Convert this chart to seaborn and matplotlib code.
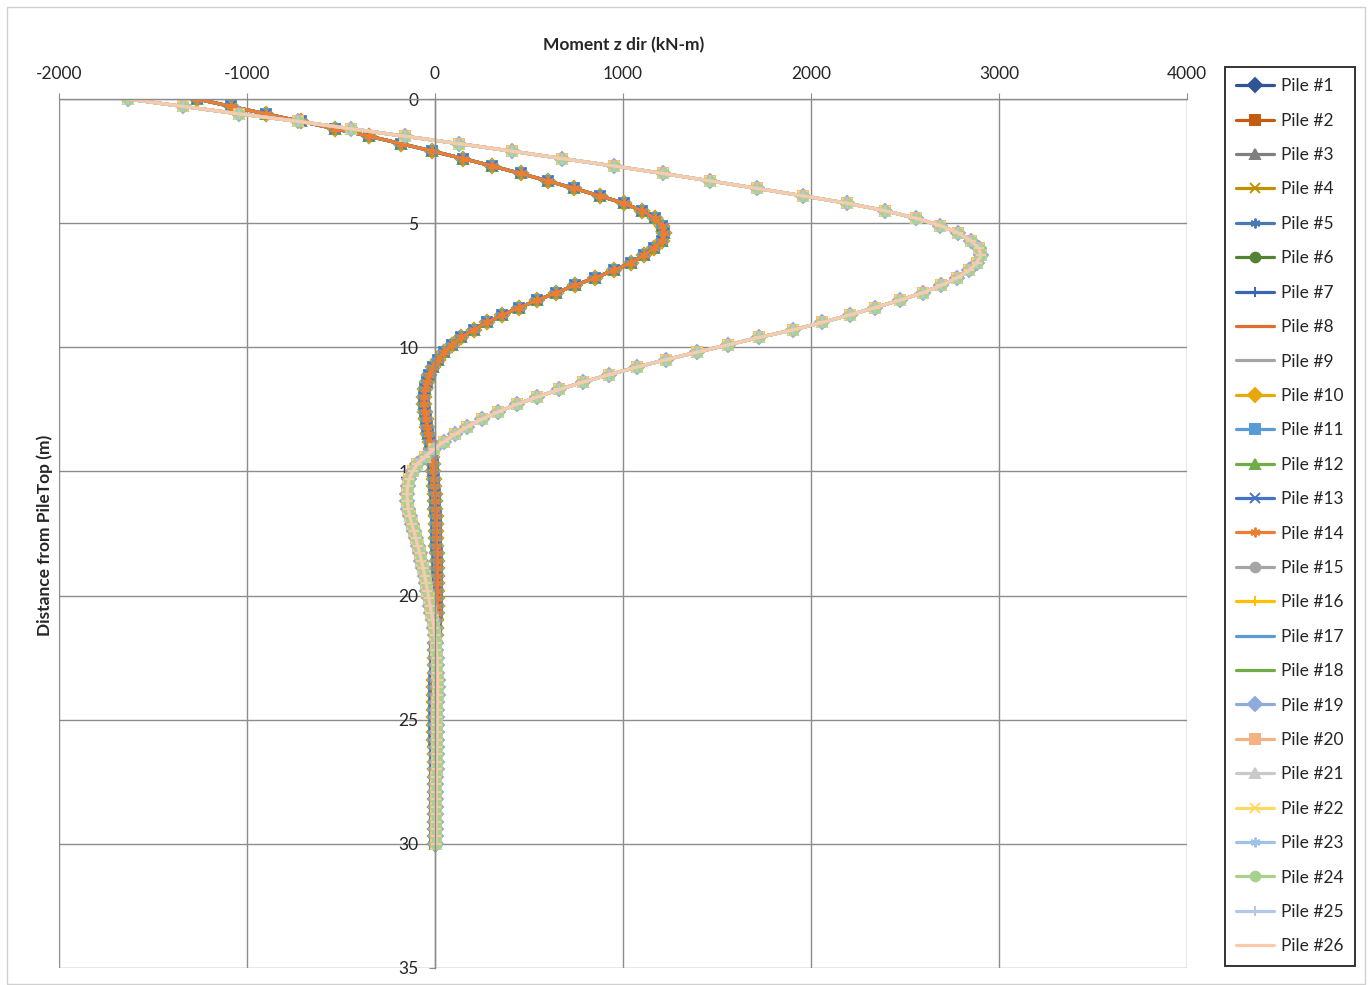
import numpy as np
import pandas as pd
import seaborn as sns
import matplotlib.pyplot as plt
from matplotlib.patches import Rectangle

# depth stations along the pile (m)
depth = [0.0, 0.3, 0.6, 0.9, 1.2, 1.5, 1.8, 2.1, 2.4, 2.7,
         3.0, 3.3, 3.6, 3.9, 4.2, 4.5, 4.8, 5.1, 5.4, 5.7,
         6.0, 6.3, 6.6, 6.9, 7.2, 7.5, 7.8, 8.1, 8.4, 8.7,
         9.0, 9.3, 9.6, 9.9, 10.2, 10.5, 10.8, 11.1, 11.4, 11.7,
         12.0, 12.3, 12.6, 12.9, 13.2, 13.5, 13.8, 14.1, 14.4, 14.7,
         15.0, 15.3, 15.6, 15.9, 16.2, 16.5, 16.8, 17.1, 17.4, 17.7,
         18.0, 18.3, 18.6, 18.9, 19.2, 19.5, 19.8, 20.1, 20.4, 20.7,
         21.0, 21.3, 21.6, 21.9, 22.2, 22.5, 22.8, 23.1, 23.4, 23.7,
         24.0, 24.3, 24.6, 24.9, 25.2, 25.5, 25.8, 26.1, 26.4, 26.7,
         27.0, 27.3, 27.6, 27.9, 28.2, 28.5, 28.8, 29.1, 29.4, 29.7,
         30.0]

# piles #1 - #14 (kN-m)
moment_a = [-1265, -1085, -900, -715, -530, -350, -180, -15, 150, 305,
            455, 600, 740, 875, 1005, 1100, 1168, 1205, 1218, 1205,
            1165, 1110, 1040, 950, 852, 745, 645, 545, 448, 358,
            275, 205, 140, 88, 46, 15, -10, -30, -44, -53,
            -57, -58, -55, -49, -42, -36, -29, -22, -16, -11,
            -8, -5, -3, -1, 0, 2, 3, 4, 5, 6,
            7, 8, 8, 9, 9, 10, 10, 10, 9, 8,
            7, 6, 4, 2, 1, 0, -1, -2, -3, -3,
            -4, -4, -4, -4, -3, -3, -3, -2, -2, -2,
            -1, -1, -1, -1, 0, 0, 0, 0, 0, 0,
            0]

# piles #15 - #26 (kN-m)
moment_b = [-1635, -1340, -1040, -730, -445, -160, 128, 408, 677, 953,
            1213, 1464, 1713, 1956, 2194, 2393, 2558, 2688, 2783, 2849,
            2893, 2904, 2882, 2842, 2778, 2694, 2595, 2474, 2341, 2205,
            2060, 1904, 1725, 1560, 1392, 1229, 1073, 927, 789, 661,
            544, 434, 336, 248, 172, 106, 48, -5, -53, -94,
            -119, -137, -146, -149, -147, -142, -134, -124, -113, -102,
            -91, -81, -72, -63, -55, -47, -40, -33, -26, -19,
            -12, -6, -1, 4, 7, 10, 12, 13, 14, 14,
            14, 13, 13, 12, 11, 11, 10, 9, 9, 8,
            8, 7, 7, 6, 6, 6, 5, 5, 5, 5,
            5]

piles = ["Pile #%d" % i for i in range(1, 27)]
colors = ["#2F5597", "#C55A11", "#7F7F7F", "#BF9000", "#4A7AB5", "#548235",
          "#3C64B4", "#D9702B", "#A5A5A5", "#E8A80C", "#5B9BD5", "#70AD47",
          "#4472C4", "#ED7D31", "#A5A5A5", "#FFC000", "#5B9BD5", "#70AD47",
          "#8FAADC", "#F4B183", "#C9C9C9", "#FFD966", "#9DC3E6", "#A9D18E",
          "#B4C7E7", "#F8CBAD"]
asterisk = (6, 2, 0)
mk = ["D", "s", "^", "x", asterisk, "o", "+", "_", "_", "D", "s", "^", "x",
      asterisk, "o", "+", "_", "_", "D", "s", "^", "x", asterisk, "o", "+", "_"]

rows = []
for i, p in enumerate(piles):
    vals = moment_a if i < 14 else moment_b
    for d, m in zip(depth, vals):
        rows.append((p, d, m))
df = pd.DataFrame(rows, columns=["pile", "depth", "moment"])

sns.set_style("white")
plt.rcParams['font.family'] = ['Lato', 'DejaVu Sans']
plt.rcParams['axes.unicode_minus'] = False

fig = plt.figure(figsize=(13.7, 9.85), dpi=100)
ax = fig.add_axes([59/1370, 1-968/985, (1187-59)/1370, (968-99)/985])

sns.lineplot(data=df, x="moment", y="depth", hue="pile", hue_order=piles,
             palette=dict(zip(piles, colors)), sort=False, estimator=None,
             orient="y", lw=2.3, legend=False, ax=ax)

# Excel-style markers, one per pile
for line, m in zip(ax.lines, mk):
    c = line.get_color()
    line.set_marker(m)
    line.set_markersize(7)
    line.set_markeredgecolor(c)
    line.set_markerfacecolor(c)
    line.set_markeredgewidth(1.4)

ax.set_xlim(-2000, 4000)
ax.set_ylim(35, 0)
ax.set_xticks(range(-2000, 4001, 1000))
ax.set_yticks(range(0, 36, 5))
ax.xaxis.tick_top()
ax.set_xlabel("")
ax.set_ylabel("")
ax.grid(True, color="#8C8C8C", lw=1)
ax.set_axisbelow(True)

for s in ["right", "bottom"]:
    ax.spines[s].set_visible(False)
ax.spines["left"].set_position(("data", 0))
for s in ["left", "top"]:
    ax.spines[s].set_color("#8C8C8C")
    ax.spines[s].set_linewidth(1)

ax.tick_params(axis="x", which="both", top=True, bottom=False, direction="out",
               length=4, color="#8C8C8C", labelsize=12.5, pad=8)
ax.tick_params(axis="y", left=True, direction="out", length=4,
               color="#8C8C8C", labelsize=12.5, pad=8)

fig.text(624/1370, 1-45/985, "Moment z dir (kN-m)", ha="center", va="center",
         fontsize=12.5, fontweight="bold")
fig.text(45/1370, 1-535/985, "Distance from PileTop (m)", ha="center", va="center",
         rotation=90, fontsize=12.5, fontweight="bold")

leg = fig.legend(ax.lines[:26], piles, loc="upper left",
                 bbox_to_anchor=(1225/1370, 1-67/985), fontsize=12.5,
                 frameon=True, fancybox=False, edgecolor="black",
                 labelspacing=1.06, handlelength=2.2, handletextpad=0.4,
                 borderpad=0.65, borderaxespad=0)
leg.get_frame().set_linewidth(1.4)

fig.patches.append(Rectangle((7/1370, 0.001), (1365-7)/1370, 1-7/985-0.001,
                             transform=fig.transFigure, fill=False,
                             edgecolor="#D0D0D0", lw=1))

plt.savefig("out.png", dpi=100)
